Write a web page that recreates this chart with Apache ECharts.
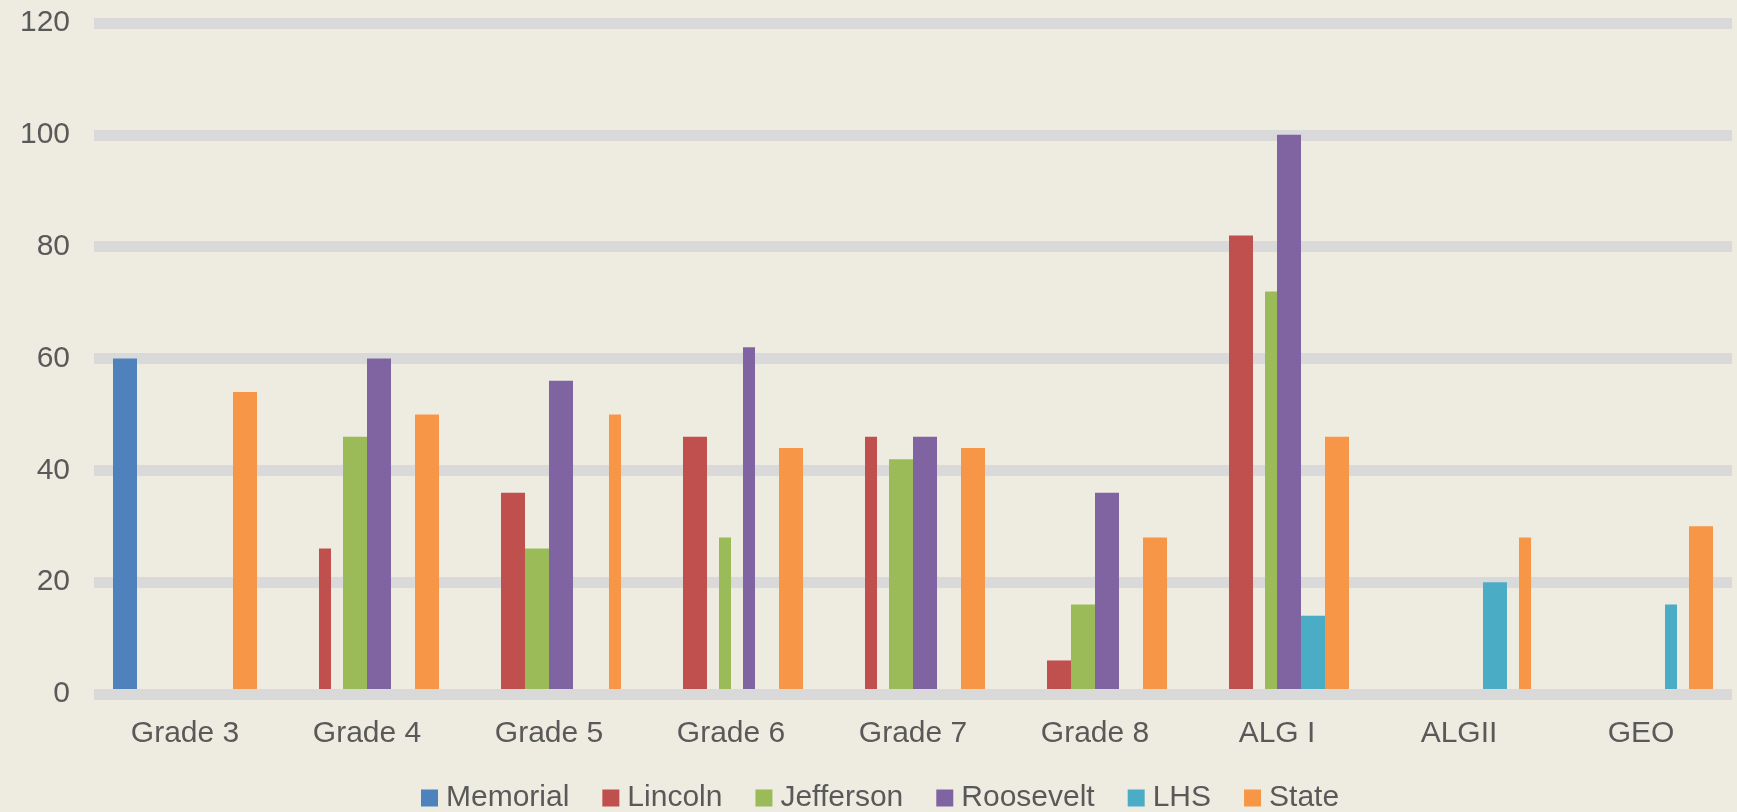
<!DOCTYPE html>
<html>
<head>
<meta charset="utf-8">
<title>Schools chart</title>
<script src="https://cdn.jsdelivr.net/npm/echarts@6/dist/echarts.min.js"></script>
<style>
  html, body { margin: 0; padding: 0; background: #eeece1; }
  #chart { width: 1737px; height: 812px; }
</style>
</head>
<body>
<div id="chart"></div>
<script>
// categories and values
const categories = ['Grade 3', 'Grade 4', 'Grade 5', 'Grade 6', 'Grade 7', 'Grade 8', 'ALG I', 'ALGII', 'GEO'];
const yTicks = [0, 20, 40, 60, 80, 100, 120];

const memorial  = [60, null, null, null, null, null, null, null, null];
const lincoln   = [null, 26, 36, 46, 46, 6, 82, null, null];
const jefferson = [null, 46, 26, 28, 42, 16, 72, null, null];
const roosevelt = [null, 60, 56, 62, 46, 36, 100, null, null];
const lhs       = [null, null, null, null, null, null, 14, 20, 16];
const state     = [54, 50, 50, 44, 44, 28, 46, 28, 30];

const schools = [
  { name: 'Memorial',  data: memorial,  color: '#4f81bd' },
  { name: 'Lincoln',   data: lincoln,   color: '#c0504d' },
  { name: 'Jefferson', data: jefferson, color: '#9bbb59' },
  { name: 'Roosevelt', data: roosevelt, color: '#8064a2' },
  { name: 'LHS',       data: lhs,       color: '#4bacc6' },
  { name: 'State',     data: state,     color: '#f79646' },
];

// some bars are drawn only half wide in the picture (L = left half, R = right half)
const halfBars = {
  Lincoln:   { 1: 'L', 4: 'L' },
  Jefferson: { 3: 'R', 6: 'R' },
  Roosevelt: { 3: 'R' },
  LHS:       { 8: 'L' },
  State:     { 2: 'R', 7: 'R' },
};

const FONT = "'Liberation Sans', Arial, sans-serif";
const TEXT = '#595959';

// every bar is made of a left and a right half series
const series = [];
schools.forEach((s) => {
  const half = halfBars[s.name] || {};
  ['L', 'R'].forEach((side) => {
    series.push({
      name: s.name,
      type: 'bar',
      barWidth: 12,
      barGap: '0%',
      itemStyle: { color: s.color },
      data: s.data.map((v, i) => (half[i] && half[i] !== side ? null : v)),
    });
  });
});

const chart = echarts.init(document.getElementById('chart'));
chart.setOption({
  backgroundColor: '#eeece1',
  animation: false,
  textStyle: { fontFamily: FONT },
  grid: { left: 94, right: 5, top: 23, bottom: 118, containLabel: false },
  legend: {
    data: schools.map((s) => s.name),
    left: 416,
    top: 778,
    icon: 'rect',
    itemWidth: 17,
    itemHeight: 17,
    itemGap: 33,
    textStyle: { color: TEXT, fontSize: 30, fontFamily: FONT, padding: [0, 0, 0, 3] },
  },
  xAxis: {
    type: 'category',
    data: categories,
    z: 3,
    axisLine: { lineStyle: { color: '#d9d9d9', width: 11, cap: 'butt' } },
    axisTick: { show: false },
    axisLabel: { color: TEXT, fontSize: 30, fontFamily: FONT, margin: 25 },
  },
  yAxis: {
    type: 'value',
    min: yTicks[0],
    max: yTicks[yTicks.length - 1],
    interval: 20,
    axisLine: { show: false },
    axisTick: { show: false },
    axisLabel: { color: TEXT, fontSize: 30, fontFamily: FONT, margin: 24 },
    splitLine: { lineStyle: { color: '#d9d9d9', width: 11 } },
  },
  series: series,
});
</script>
</body>
</html>
